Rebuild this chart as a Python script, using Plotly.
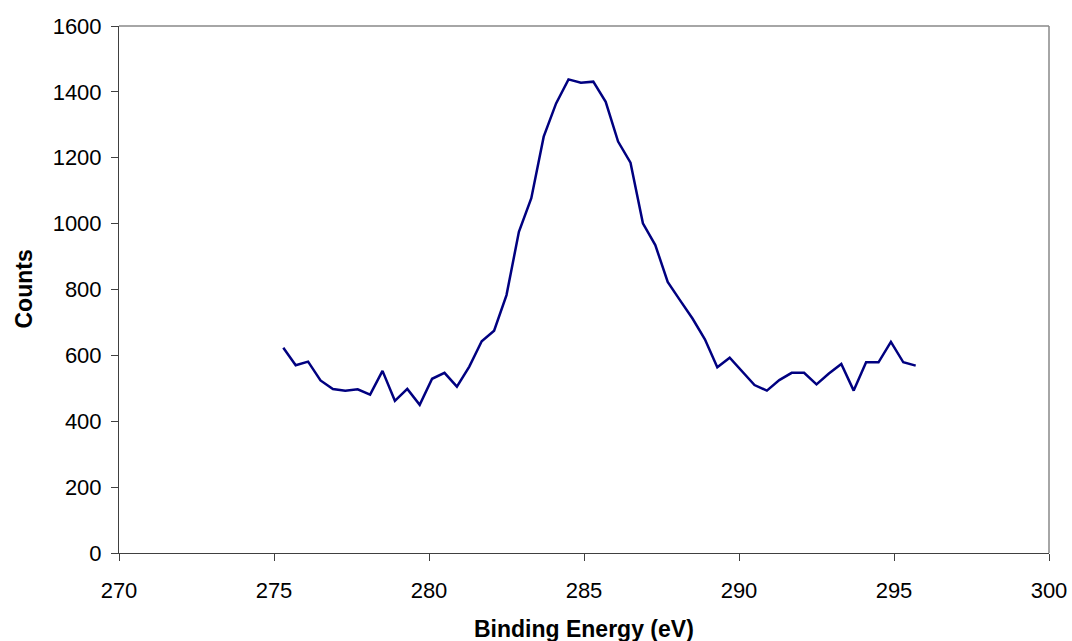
import plotly.graph_objects as go

# XPS C 1s region scan
binding_energy = [
    275.3, 275.7, 276.1, 276.5, 276.9, 277.3, 277.7, 278.1, 278.5, 278.9,
    279.3, 279.7, 280.1, 280.5, 280.9, 281.3, 281.7, 282.1, 282.5, 282.9,
    283.3, 283.7, 284.1, 284.5, 284.9, 285.3, 285.7, 286.1, 286.5, 286.9,
    287.3, 287.7, 288.1, 288.5, 288.9, 289.3, 289.7, 290.1, 290.5, 290.9,
    291.3, 291.7, 292.1, 292.5, 292.9, 293.3, 293.7, 294.1, 294.5, 294.9,
    295.3, 295.7,
]
counts = [
    623, 570, 581, 524, 498, 493, 497, 481, 553, 462,
    498, 450, 529, 547, 505, 566, 643, 675, 783, 975,
    1077, 1264, 1365, 1438, 1428, 1431, 1370, 1249, 1185, 1001,
    935, 823, 767, 712, 649, 564, 593, 550, 510, 493,
    525, 547, 547, 512, 545, 574, 493, 579, 579, 641,
    579, 569,
]

x_ticks = [270, 275, 280, 285, 290, 295, 300]
y_ticks = [0, 200, 400, 600, 800, 1000, 1200, 1400, 1600]

FONT = "Liberation Sans, Arial, sans-serif"
AXIS_COLOR = "#404040"

fig = go.Figure(
    go.Scatter(
        x=binding_energy,
        y=counts,
        mode="lines",
        line=dict(color="#000080", width=2.5),
        showlegend=False,
    )
)

fig.update_layout(
    width=1072,
    height=641,
    margin=dict(l=119, r=23, t=26, b=88),
    paper_bgcolor="white",
    plot_bgcolor="white",
    font=dict(family=FONT, size=22, color="black"),
    xaxis=dict(
        range=[270, 300],
        tickvals=x_ticks,
        ticks="outside",
        ticklen=7,
        tickcolor=AXIS_COLOR,
        showline=True,
        linecolor=AXIS_COLOR,
        linewidth=1,
        showgrid=False,
        zeroline=False,
        tickfont=dict(size=22),
        ticklabelstandoff=11,
        automargin=False,
    ),
    yaxis=dict(
        range=[0, 1600],
        tickvals=y_ticks,
        ticks="outside",
        ticklen=7,
        tickcolor=AXIS_COLOR,
        showline=True,
        linecolor=AXIS_COLOR,
        linewidth=1,
        showgrid=False,
        zeroline=False,
        tickfont=dict(size=22),
        ticklabelstandoff=5,
        automargin=False,
    ),
    shapes=[
        dict(type="line", xref="paper", yref="paper", x0=0, x1=1, y0=1, y1=1,
             line=dict(color="#888888", width=1.5)),
        dict(type="line", xref="paper", yref="paper", x0=1, x1=1, y0=0, y1=1,
             line=dict(color="#888888", width=1.5)),
    ],
    annotations=[
        # axis titles placed below / left of the plot frame
        dict(text="<b>Binding Energy (eV)</b>", xref="paper", yref="paper",
             x=0.5, y=0, xanchor="center", yanchor="middle", yshift=-76,
             showarrow=False, font=dict(size=23)),
        dict(text="<b>Counts</b>", xref="paper", yref="paper",
             x=0, y=0.5, xanchor="center", yanchor="middle", xshift=-96,
             textangle=-90, showarrow=False, font=dict(size=23)),
    ],
)

fig.write_html("out.html")
